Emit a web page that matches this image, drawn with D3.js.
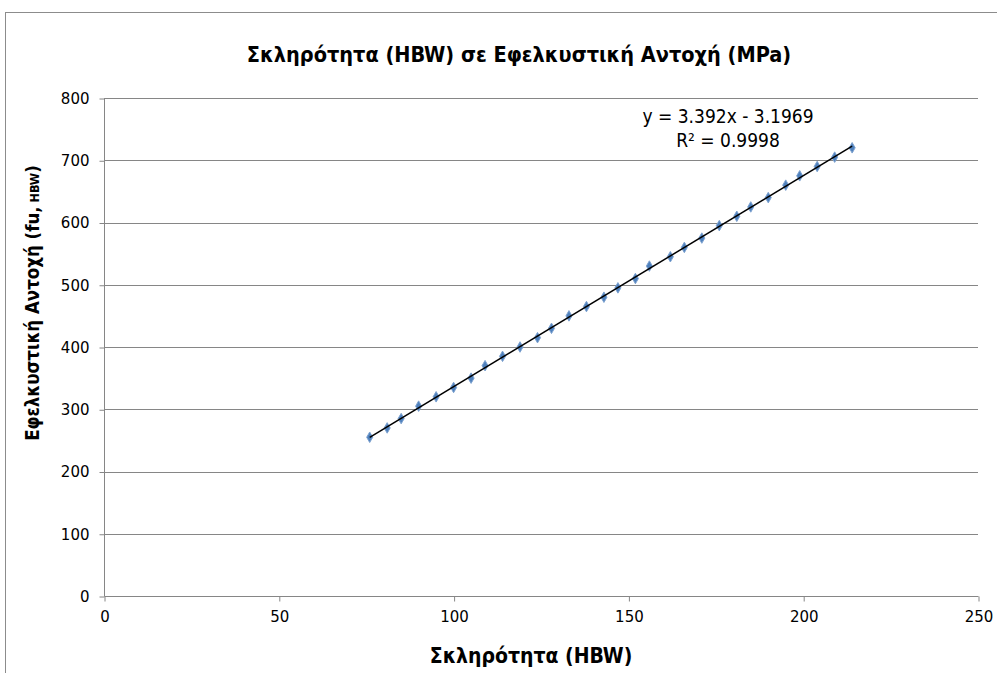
<!DOCTYPE html>
<html>
<head>
<meta charset="utf-8">
<script src="https://cdn.jsdelivr.net/npm/d3@7"></script>
<style>
  body { margin: 0; background: #fff; }
  svg text { font-family: "DejaVu Sans Condensed", "DejaVu Sans", sans-serif; }
</style>
</head>
<body>
<div id="chart"></div>
<script>
// Hardness (HBW) readings and matching tensile strength (MPa)
const hardness = [76, 81, 85, 90, 95, 100, 105, 109, 114, 119, 124, 128, 133, 138, 143,
                  147, 152, 156, 162, 166, 171, 176, 181, 185, 190, 195, 199, 204, 209, 214];
const tensile = [255, 270, 285, 305, 320, 335, 350, 370, 385, 400, 415, 430, 450, 465, 480,
                 495, 510, 530, 545, 560, 575, 595, 610, 625, 640, 660, 675, 690, 705, 720];
const xTicks = [0, 50, 100, 150, 200, 250];
const yTicks = [0, 100, 200, 300, 400, 500, 600, 700, 800];
const trendText = ["y = 3.392x - 3.1969", "R² = 0.9998"];

const width = 997;
const height = 673;
const plot = { left: 104, right: 978, top: 98, bottom: 596 };

const svg = d3.select("#chart")
    .append("svg")
    .attr("width", width)
    .attr("height", height);

// Chart area border
svg.append("rect")
    .attr("x", 5.5)
    .attr("y", 12.5)
    .attr("width", 1000)
    .attr("height", 700)
    .attr("fill", "none")
    .attr("stroke", "#8c8c8c")
    .attr("stroke-width", 1);

const x = d3.scaleLinear().domain([0, 250]).range([plot.left, plot.right]);
const y = d3.scaleLinear().domain([0, 800]).range([plot.bottom, plot.top]);

// Horizontal gridlines
svg.append("g")
    .selectAll("line")
    .data(yTicks.filter(d => d > 0))
    .enter()
    .append("line")
    .attr("x1", plot.left)
    .attr("x2", plot.right)
    .attr("y1", d => Math.round(y(d)) + 0.5)
    .attr("y2", d => Math.round(y(d)) + 0.5)
    .attr("stroke", "#868686")
    .attr("stroke-width", 1);

// Axes
const yAxis = svg.append("g")
    .attr("transform", `translate(${plot.left + 0.5},0.5)`)
    .call(d3.axisLeft(y).tickValues(yTicks).tickSize(5).tickPadding(10).tickFormat(d3.format("d")));

const xAxis = svg.append("g")
    .attr("transform", `translate(0.5,${plot.bottom + 0.5})`)
    .call(d3.axisBottom(x).tickValues(xTicks).tickSize(5).tickPadding(10).tickFormat(d3.format("d")));

[xAxis, yAxis].forEach(a => {
    a.select(".domain").remove();
    a.selectAll(".tick line").attr("stroke", "#868686");
    a.selectAll(".tick text")
        .attr("fill", "#000")
        .style("font-family", "'DejaVu Sans', sans-serif")
        .style("font-size", "15px");
});
yAxis.append("line")
    .attr("x1", 0).attr("x2", 0)
    .attr("y1", plot.top).attr("y2", plot.bottom)
    .attr("stroke", "#868686");
xAxis.append("line")
    .attr("x1", plot.left).attr("x2", plot.right)
    .attr("y1", 0).attr("y2", 0)
    .attr("stroke", "#868686");

// Data points (diamonds)
const points = hardness.map((h, i) => ({ h, t: tensile[i] }));
const diamond = d3.symbol().type(d3.symbolDiamond).size(32);
svg.append("g")
    .selectAll("path")
    .data(points)
    .enter()
    .append("path")
    .attr("d", diamond)
    .attr("transform", d => `translate(${x(d.h)},${y(d.t)})`)
    .attr("fill", "#4F81BD")
    .attr("stroke", "#7fa3d0")
    .attr("stroke-width", 1);

// Linear trendline (least squares)
const mx = d3.mean(hardness);
const my = d3.mean(tensile);
const slope = d3.sum(points, d => (d.h - mx) * (d.t - my)) / d3.sum(points, d => (d.h - mx) ** 2);
const intercept = my - slope * mx;
const xMin = d3.min(hardness);
const xMax = d3.max(hardness);
svg.append("line")
    .attr("x1", x(xMin))
    .attr("y1", y(slope * xMin + intercept))
    .attr("x2", x(xMax))
    .attr("y2", y(slope * xMax + intercept))
    .attr("stroke", "#000")
    .attr("stroke-width", 1.5);

// Trendline equation
svg.append("g")
    .selectAll("text")
    .data(trendText)
    .enter()
    .append("text")
    .attr("x", 728)
    .attr("y", (d, i) => 123 + i * 24)
    .attr("text-anchor", "middle")
    .style("font-size", "19px")
    .text(d => d);

// Title
svg.append("text")
    .attr("x", 519)
    .attr("y", 62)
    .attr("text-anchor", "middle")
    .style("font-size", "21.5px")
    .style("font-weight", "bold")
    .text("Σκληρότητα (HBW) σε Εφελκυστική Αντοχή (MPa)");

// X axis title
svg.append("text")
    .attr("x", 531)
    .attr("y", 663)
    .attr("text-anchor", "middle")
    .style("font-size", "21px")
    .style("font-weight", "bold")
    .text("Σκληρότητα (HBW)");

// Y axis title
const yTitle = svg.append("text")
    .attr("transform", "translate(39,303) rotate(-90)")
    .attr("text-anchor", "middle")
    .style("font-size", "18.5px")
    .style("font-weight", "bold");
yTitle.append("tspan").text("Εφελκυστική Αντοχή (fu,");
yTitle.append("tspan").style("font-size", "12.5px").text(" HBW");
yTitle.append("tspan").text(")");
</script>
</body>
</html>
